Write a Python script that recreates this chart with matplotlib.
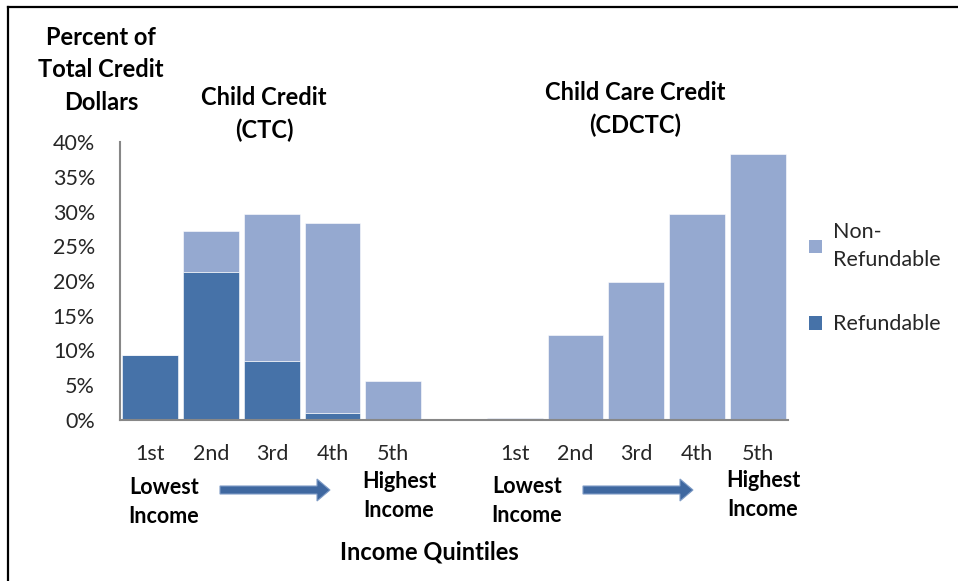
import matplotlib
matplotlib.use("Agg")
import matplotlib.pyplot as plt
from matplotlib.lines import Line2D
from matplotlib.patches import FancyArrow, Patch
from matplotlib.ticker import PercentFormatter

# data (percent of total credit dollars)
quintiles = ["1st", "2nd", "3rd", "4th", "5th"]
ctc_refundable = [9.4, 21.3, 8.5, 1.0, 0.0]
ctc_nonrefundable = [0.0, 5.9, 21.1, 27.3, 5.6]
cdctc_refundable = [0.0, 0.0, 0.0, 0.0, 0.0]
cdctc_nonrefundable = [0.35, 12.2, 19.8, 29.6, 38.3]

DARK = "#4672a8"
LIGHT = "#95a9d0"
FONT = "Lato"

W, H = 958, 581
fig = plt.figure(figsize=(W / 100, H / 100), dpi=100)
plt.rcParams["font.family"] = [FONT, "DejaVu Sans"]


def fx(px):
    return px / W


def fy(py):
    return 1 - py / H


ax = fig.add_axes([fx(120), fy(420), fx(788) - fx(120), fy(142) - fy(420)])

x_ctc = list(range(0, 5))
x_cdctc = list(range(6, 11))
width = 0.92
for xs, ref, nonref in [(x_ctc, ctc_refundable, ctc_nonrefundable),
                        (x_cdctc, cdctc_refundable, cdctc_nonrefundable)]:
    ax.bar(xs, ref, width=width, color=DARK, edgecolor="white", linewidth=0.4)
    ax.bar(xs, nonref, bottom=ref, width=width, color=LIGHT,
           edgecolor="white", linewidth=0.4)

ax.set_xlim(-0.5, 10.5)
ax.set_ylim(0, 40)
ax.set_yticks(range(0, 41, 5))
ax.yaxis.set_major_formatter(PercentFormatter(decimals=0))
ax.set_xticks(x_ctc + x_cdctc)
ax.set_xticklabels(quintiles + quintiles)
ax.tick_params(axis="both", length=0, labelsize=15.5, colors="#262626")
ax.tick_params(axis="y", pad=18)
ax.tick_params(axis="x", pad=17)
for side in ["top", "right"]:
    ax.spines[side].set_visible(False)
for side in ["left", "bottom"]:
    ax.spines[side].set_color("#878787")
    ax.spines[side].set_linewidth(1.5)

# titles and annotations
bold = dict(fontsize=17, fontweight="bold", ha="center", va="center",
            color="black", linespacing=1.5)
fig.text(fx(101), fy(70), "Percent of\nTotal Credit\nDollars", **bold)
fig.text(fx(264), fy(114), "Child Credit\n(CTC)", **bold)
fig.text(fx(635), fy(109), "Child Care Credit\n(CDCTC)", **bold)
fig.text(fx(429), fy(552), "Income Quintiles", **bold)

small = dict(fontsize=15.5, fontweight="bold", ha="center", va="center",
             color="black", linespacing=1.45)
fig.text(fx(164), fy(502), "Lowest\nIncome", **small)
fig.text(fx(399), fy(496), "Highest\nIncome", **small)
fig.text(fx(527), fy(501), "Lowest\nIncome", **small)
fig.text(fx(763), fy(495), "Highest\nIncome", **small)

for x0 in [220, 583]:
    fig.patches.append(FancyArrow(
        fx(x0), fy(490), fx(110), 0, width=8 / H, head_width=22 / H,
        head_length=fx(13), length_includes_head=True,
        facecolor="#3f68a0", edgecolor="#7f9cc6", linewidth=0.8,
        transform=fig.transFigure))

handles = [Patch(facecolor=LIGHT), Patch(facecolor=DARK)]
leg = fig.legend(handles, ["Non-\nRefundable", "Refundable"], loc="center left",
                 bbox_to_anchor=(fx(790), fy(278)), frameon=False, fontsize=15.5,
                 handlelength=0.6, handleheight=0.6, handletextpad=0.5,
                 labelspacing=2.05, labelcolor="#262626")
leg.get_texts()[0].set_linespacing(1.55)

# frame lines on the top and left
fig.add_artist(Line2D([fx(8), 1], [fy(7), fy(7)], color="black", lw=1.6,
                      transform=fig.transFigure))
fig.add_artist(Line2D([fx(8), fx(8)], [fy(7), 0], color="black", lw=1.6,
                      transform=fig.transFigure))

fig.savefig("out.png", dpi=100)
